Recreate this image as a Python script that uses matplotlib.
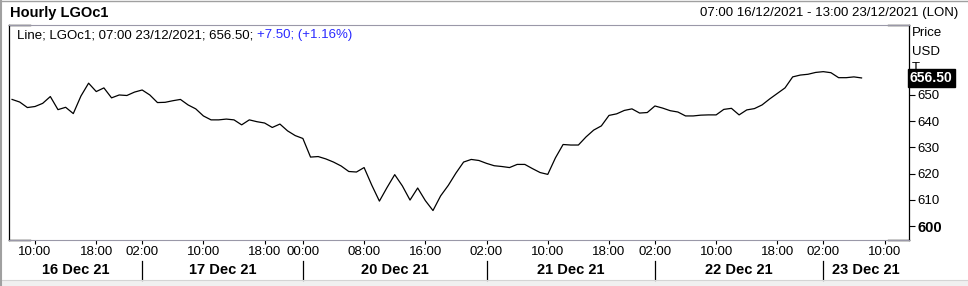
import matplotlib
matplotlib.use("Agg")
import matplotlib.pyplot as plt
from matplotlib.transforms import blended_transform_factory
from matplotlib.patches import Rectangle

plt.rcParams['font.family'] = ['Liberation Sans', 'DejaVu Sans']

# hourly closes, one per trading bar (07:00 16/12 .. 07:00 23/12)
prices = [
    648.3, 647.3, 645.2, 645.6, 646.8, 649.4, 644.4, 645.3, 642.9, 649.6,
    654.5, 651.3, 652.7, 648.9, 650.0, 649.8, 651.1, 651.9, 650.0, 647.1,
    647.2, 647.8, 648.3, 646.2, 644.7, 642.0, 640.5, 640.5, 640.8, 640.5,
    638.6, 640.5, 639.8, 639.3, 637.6, 638.9, 636.3, 634.5, 633.4, 626.3,
    626.5, 625.6, 624.4, 622.9, 620.8, 620.6, 622.3, 615.6, 609.5, 614.7,
    619.6, 615.3, 609.9, 614.5, 609.7, 605.9, 611.5, 615.5, 620.2, 624.4,
    625.4, 625.0, 623.9, 623.0, 622.7, 622.3, 623.5, 623.5, 621.9, 620.4,
    619.7, 626.0, 631.1, 630.9, 630.9, 634.0, 636.6, 638.2, 642.2, 642.8,
    644.1, 644.7, 643.1, 643.3, 645.8, 645.0, 644.0, 643.5, 642.0, 642.0,
    642.3, 642.4, 642.4, 644.5, 644.9, 642.4, 644.3, 644.8, 646.2, 648.5,
    650.6, 652.7, 656.9, 657.6, 657.9, 658.6, 658.9, 658.5, 656.6, 656.6,
    656.9, 656.5,
]

# bar index of each hour label
tick_pos = [3, 11, 17, 25, 33, 38, 46, 54, 62, 70, 78, 84, 92, 100, 106, 114]
tick_labels = ['10:00', '18:00', '02:00', '10:00', '18:00', '00:00', '08:00', '16:00',
               '02:00', '10:00', '18:00', '02:00', '10:00', '18:00', '02:00', '10:00']
day_starts = [17, 38, 62, 84, 106]
day_labels = ['16 Dec 21', '17 Dec 21', '20 Dec 21', '21 Dec 21', '22 Dec 21', '23 Dec 21']
y_ticks = [600, 610, 620, 630, 640, 650]
last_price = 656.50

W, H = 968, 286
fig = plt.figure(figsize=(W / 100, H / 100), dpi=100)
fig.patch.set_facecolor('white')

def fx(x):
    return x / W

def fy(y):
    return 1 - y / H

ax = fig.add_axes([fx(9), fy(240), fx(900), 215 / H])
x_lo, x_hi = -0.4, 117.2
ax.plot(range(len(prices)), prices, color='black', lw=0.9, solid_joinstyle='round')
ax.set_xlim(x_lo, x_hi)
ax.set_ylim(594.66, 676.7)

# frame: grey top/bottom, black left/right with black corner stubs
for s in ['top', 'bottom']:
    ax.spines[s].set_color('#9a98a8')
    ax.spines[s].set_linewidth(0.8)
for s in ['left', 'right']:
    ax.spines[s].set_color('black')
    ax.spines[s].set_linewidth(0.9)
stub = 21 / 900
for y0 in (0, 1):
    ax.plot([0, stub], [y0, y0], transform=ax.transAxes, color='black', lw=1.0, clip_on=False)
    ax.plot([1 - stub, 1], [y0, y0], transform=ax.transAxes, color='black', lw=1.0, clip_on=False)

ax.yaxis.tick_right()
ax.set_yticks(y_ticks)
ax.set_yticklabels([str(v) for v in y_ticks], fontsize=9.5)
ax.get_yticklabels()[0].set_fontweight('bold')
ax.get_yticklabels()[0].set_fontsize(10.5)
ax.tick_params(axis='y', length=4, width=0.8, pad=2, colors='black')

ax.set_xticks(tick_pos)
ax.set_xticklabels(tick_labels, fontsize=9.5)
ax.tick_params(axis='x', length=3, width=0.8, pad=1, colors='black')

# last price box
ax.annotate(f'{last_price:.2f}', xy=(1, last_price), xycoords=('axes fraction', 'data'),
            xytext=(1.001, last_price), textcoords=('axes fraction', 'data'),
            ha='left', va='center', color='white', fontsize=10, fontweight='bold',
            bbox=dict(boxstyle='square,pad=0.15', fc='black', ec='black'),
            annotation_clip=False, zorder=5)

# day separators and labels
tr = blended_transform_factory(ax.transData, fig.transFigure)
for p in day_starts:
    ax.plot([p, p], [fy(261), fy(280)], transform=tr, color='black', lw=0.9, clip_on=False)
bounds = [x_lo] + day_starts + [x_hi]
for i, lab in enumerate(day_labels):
    mid = (bounds[i] + bounds[i + 1]) / 2
    ax.text(mid, fy(270), lab, transform=tr, ha='center', va='center',
            fontsize=10.5, fontweight='bold')

# header texts
fig.text(fx(10), fy(13), 'Hourly LGOc1', fontsize=10.5, fontweight='bold', va='center')
fig.text(fx(958), fy(13), '07:00 16/12/2021 - 13:00 23/12/2021 (LON)', fontsize=9.5,
         ha='right', va='center')
t1 = fig.text(fx(17), fy(35), 'Line; LGOc1; 07:00 23/12/2021; 656.50; ', fontsize=9.5, va='center')
fig.canvas.draw()
bb = t1.get_window_extent()
fig.text(bb.x1 / W, fy(35), '+7.50; (+1.16%)', fontsize=9.5, va='center', color='#2a2aff')

fig.text(fx(912), fy(33), 'Price', fontsize=9.5, va='center')
fig.text(fx(912), fy(52), 'USD', fontsize=9.5, va='center')
fig.text(fx(912), fy(68), 'T', fontsize=9.5, va='center', zorder=-0.5)

# window chrome
fig.patches.append(Rectangle((0, 0), 1, 6 / H, transform=fig.transFigure,
                             fc='#f0f0f0', ec='none', zorder=-1))
fig.add_artist(plt.Line2D([0, 1], [fy(280), fy(280)], color='#d4d4d4', lw=0.8))
fig.add_artist(plt.Line2D([fx(1), fx(1)], [0, 1], color='#a0a0a0', lw=1.5))
fig.add_artist(plt.Line2D([0, 1], [fy(0.5), fy(0.5)], color='#a0a0a0', lw=1.0))

fig.savefig('out.png', dpi=100)
